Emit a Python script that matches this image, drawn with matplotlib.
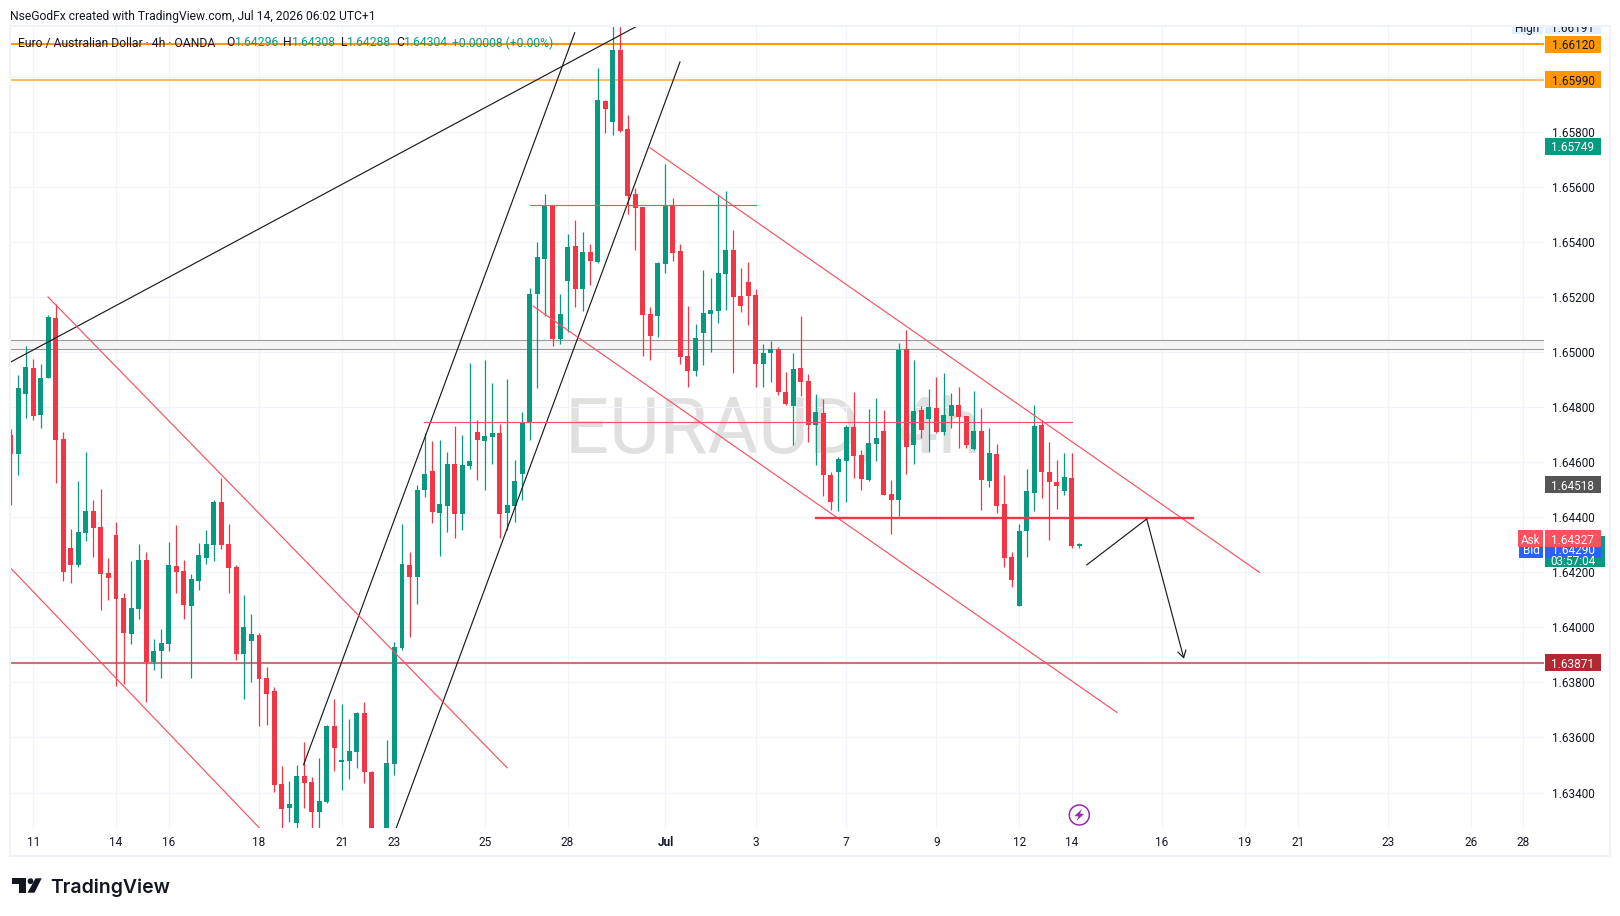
import matplotlib
matplotlib.use("Agg")
import matplotlib.pyplot as plt
from matplotlib.patches import Rectangle, Polygon, Circle
import numpy as np

plt.rcParams["font.family"] = ["Roboto", "DejaVu Sans"]

# EUR/AUD 4h bars
opens = [1.64699, 1.64630, 1.64848, 1.64943, 1.64772, 1.64906, 1.65124, 1.64685, 1.64289, 1.64227,
         1.64343, 1.64423, 1.64365, 1.64198, 1.64336, 1.64107, 1.63976, 1.64067, 1.64246, 1.63875,
         1.63915, 1.63940, 1.64223, 1.64205, 1.64078, 1.64169, 1.64252, 1.64299, 1.64456, 1.64303,
         1.64220, 1.63903, 1.63951, 1.63973, 1.63817, 1.63769, 1.63432, 1.63344, 1.63290, 1.63461,
         1.63439, 1.63330, 1.63366, 1.63642, 1.63511, 1.63515, 1.63548, 1.63689, 1.63475, 1.63228,
         1.63235, 1.63504, 1.63926, 1.64227, 1.64184, 1.64500, 1.64568, 1.64416, 1.64441, 1.64594,
         1.64412, 1.64587, 1.64710, 1.64678, 1.64692, 1.64707, 1.64416, 1.64441, 1.64558, 1.64743,
         1.65212, 1.65339, 1.65535, 1.65048, 1.65259, 1.65386, 1.65230, 1.65364, 1.65328, 1.65913,
         1.65836, 1.66098, 1.65811, 1.65575, 1.65528, 1.65139, 1.65132, 1.65321, 1.65535, 1.65368,
         1.64986, 1.64932, 1.65070, 1.65139, 1.65150, 1.65284, 1.65371, 1.65204, 1.65255, 1.65208,
         1.64957, 1.64997, 1.65012, 1.64856, 1.64805, 1.64943, 1.64896, 1.64736, 1.64779, 1.64554,
         1.64565, 1.64605, 1.64728, 1.64627, 1.64536, 1.64667, 1.64714, 1.64485, 1.64463, 1.65012,
         1.64663, 1.64790, 1.64757, 1.64797, 1.64710, 1.64768, 1.64808, 1.64768, 1.64649, 1.64714,
         1.64532, 1.64630, 1.64449, 1.64256, 1.64078, 1.64351, 1.64489, 1.64736, 1.64565, 1.64529,
         1.64496, 1.64543, 1.64296]
highs = [1.64721, 1.64917, 1.65023, 1.64975, 1.64957, 1.65135, 1.65175, 1.64710, 1.64358, 1.64532,
         1.64638, 1.64463, 1.64503, 1.64252, 1.64383, 1.64125, 1.64242, 1.64303, 1.64274, 1.63958,
         1.63995, 1.64311, 1.64372, 1.64246, 1.64194, 1.64307, 1.64354, 1.64463, 1.64543, 1.64376,
         1.64227, 1.64118, 1.64049, 1.63980, 1.63857, 1.63784, 1.63497, 1.63442, 1.63501, 1.63584,
         1.63457, 1.63526, 1.63646, 1.63740, 1.63722, 1.63668, 1.63693, 1.63729, 1.63479, 1.63240,
         1.63591, 1.63947, 1.64376, 1.64274, 1.64518, 1.64707, 1.64678, 1.64681, 1.64638, 1.64732,
         1.64699, 1.64961, 1.64754, 1.64972, 1.64888, 1.64739, 1.64903, 1.64608, 1.64783, 1.65233,
         1.65400, 1.65575, 1.65535, 1.65212, 1.65430, 1.65480, 1.65437, 1.65393, 1.66033, 1.65916,
         1.66185, 1.66191, 1.65862, 1.65597, 1.65528, 1.65164, 1.65328, 1.65684, 1.65560, 1.65393,
         1.65168, 1.65103, 1.65299, 1.65270, 1.65571, 1.65586, 1.65444, 1.65306, 1.65328, 1.65230,
         1.65030, 1.65041, 1.65019, 1.64929, 1.64997, 1.65132, 1.64921, 1.64848, 1.64830, 1.64565,
         1.64619, 1.64736, 1.64856, 1.64645, 1.64794, 1.64834, 1.64790, 1.64536, 1.65034, 1.65081,
         1.64972, 1.64805, 1.64866, 1.64910, 1.64925, 1.64852, 1.64874, 1.64768, 1.64859, 1.64797,
         1.64725, 1.64667, 1.64554, 1.64274, 1.64376, 1.64576, 1.64808, 1.64754, 1.64674, 1.64608,
         1.64634, 1.64634, 1.64308]
lows = [1.64445, 1.64554, 1.64761, 1.64754, 1.64725, 1.64906, 1.64525, 1.64169, 1.64162, 1.64220,
        1.64314, 1.64256, 1.64064, 1.64100, 1.63787, 1.63795, 1.63940, 1.64031, 1.63729, 1.63846,
        1.63817, 1.63915, 1.64125, 1.64031, 1.63817, 1.64136, 1.64230, 1.64242, 1.64285, 1.64125,
        1.63882, 1.63740, 1.63802, 1.63642, 1.63646, 1.63403, 1.63246, 1.63293, 1.63246, 1.63344,
        1.63246, 1.63246, 1.63362, 1.63479, 1.63410, 1.63450, 1.63490, 1.63435, 1.63192, 1.63190,
        1.63210, 1.63464, 1.63918, 1.63966, 1.64085, 1.64474, 1.64380, 1.64259, 1.64347, 1.64325,
        1.64354, 1.64576, 1.64536, 1.64500, 1.64594, 1.64325, 1.64354, 1.64383, 1.64463, 1.64681,
        1.64870, 1.65132, 1.65023, 1.65030, 1.65074, 1.65164, 1.65150, 1.65244, 1.65324, 1.65796,
        1.65789, 1.65800, 1.65502, 1.65371, 1.64986, 1.64972, 1.65055, 1.65288, 1.65331, 1.64957,
        1.64874, 1.64914, 1.64954, 1.65001, 1.65106, 1.65154, 1.64925, 1.65146, 1.65099, 1.64874,
        1.64874, 1.64892, 1.64845, 1.64808, 1.64663, 1.64841, 1.64674, 1.64591, 1.64478, 1.64427,
        1.64423, 1.64456, 1.64543, 1.64500, 1.64532, 1.64605, 1.64482, 1.64340, 1.64405, 1.64558,
        1.64594, 1.64688, 1.64638, 1.64707, 1.64699, 1.64725, 1.64652, 1.64652, 1.64645, 1.64427,
        1.64510, 1.64416, 1.64220, 1.64147, 1.64078, 1.64256, 1.64423, 1.64470, 1.64318, 1.64431,
        1.64482, 1.64289, 1.64288]
closes = [1.64630, 1.64870, 1.64946, 1.64768, 1.64906, 1.65128, 1.64681, 1.64202, 1.64227, 1.64347,
          1.64423, 1.64361, 1.64194, 1.64180, 1.64104, 1.63980, 1.64071, 1.64246, 1.63875, 1.63915,
          1.63944, 1.64227, 1.64202, 1.64082, 1.64176, 1.64263, 1.64303, 1.64456, 1.64299, 1.64216,
          1.63903, 1.64002, 1.63976, 1.63813, 1.63758, 1.63428, 1.63341, 1.63359, 1.63461, 1.63435,
          1.63330, 1.63370, 1.63642, 1.63562, 1.63519, 1.63551, 1.63689, 1.63475, 1.63228, 1.63205,
          1.63508, 1.63929, 1.64230, 1.64184, 1.64500, 1.64558, 1.64420, 1.64449, 1.64594, 1.64412,
          1.64591, 1.64605, 1.64681, 1.64696, 1.64707, 1.64412, 1.64445, 1.64532, 1.64747, 1.65212,
          1.65346, 1.65535, 1.65048, 1.65139, 1.65382, 1.65230, 1.65364, 1.65331, 1.65916, 1.65884,
          1.66098, 1.65804, 1.65567, 1.65524, 1.65135, 1.65059, 1.65324, 1.65535, 1.65360, 1.64983,
          1.64932, 1.65052, 1.65143, 1.65154, 1.65288, 1.65371, 1.65201, 1.65168, 1.65204, 1.64957,
          1.64997, 1.65012, 1.64856, 1.64812, 1.64939, 1.64892, 1.64736, 1.64783, 1.64554, 1.64456,
          1.64612, 1.64728, 1.64623, 1.64540, 1.64670, 1.64688, 1.64482, 1.64463, 1.65008, 1.64656,
          1.64787, 1.64717, 1.64801, 1.64710, 1.64772, 1.64808, 1.64765, 1.64663, 1.64714, 1.64536,
          1.64634, 1.64441, 1.64252, 1.64173, 1.64351, 1.64496, 1.64732, 1.64565, 1.64529, 1.64514,
          1.64547, 1.64296, 1.64304]

date_pos = [3, 14, 21, 33, 44, 51, 63, 74, 87, 99, 111, 123, 134, 141, 153, 164, 171, 183, 194, 201]
date_lbl = ["11", "14", "16", "18", "21", "23", "25", "28", "Jul", "3", "7", "9", "12", "14", "16", "19", "21", "23", "26", "28"]
price_ticks = [1.634, 1.636, 1.638, 1.640, 1.642, 1.644, 1.646, 1.648, 1.650, 1.652, 1.654, 1.656, 1.658, 1.660]

# drawings: (bar, price) pairs
black_lines = [[(-2, 1.64935), (88.4, 1.66261)],
               [(38.93, 1.63501), (74.95, 1.66161)],
               [(50.41, 1.63210), (88.94, 1.66055)]]
red_lines = [[(4.97, 1.65201), (65.96, 1.63490)],
             [(-1.41, 1.64256), (34.46, 1.63231)],
             [(84.96, 1.65743), (165.94, 1.64200)],
             [(69.41, 1.65168), (147, 1.63691)],
             [(69, 1.65535), (99, 1.65535)],
             [(54.93, 1.64747), (141, 1.64747)]]
support = [(107, 1.64399), (157.1, 1.64399)]
arrow_path = [(142.98, 1.64227), (150.95, 1.64394), (155.9, 1.63886)]
zone = (1.65010, 1.65043)

tag_prices = [1.66120, 1.65990, 1.65749, 1.64518, 1.63871]
tag_text = ["1.66120", "1.65990", "1.65749", "1.64518", "1.63871"]
tag_bg = ["#ff9800", "#ff9800", "#089981", "#555555", "#b22833"]
tag_fg = ["#131722", "#131722", "white", "white", "white"]

GREEN = "#089981"
RED = "#f23645"
W, H = 1620, 916
Y_TOP, Y_BOT = 1.66182, 1.63271

fig = plt.figure(figsize=(W / 100, H / 100), dpi=100, facecolor="white")
ax = fig.add_axes([10 / W, (H - 828) / H, 1534 / W, 801 / H])
ax.set_xlim(-0.083, 203.74)
ax.set_ylim(Y_BOT, Y_TOP)
for s in ax.spines.values():
    s.set_visible(False)

ax.set_xticks(date_pos, date_lbl)
# 1.66000 sits behind the 1.65990 tag in the original
ax.set_yticks(price_ticks, [f"{p:.5f}" if p < 1.66 else "" for p in price_ticks])
ax.yaxis.tick_right()
ax.tick_params(length=0, labelsize=8.5, labelcolor="#131722")
ax.tick_params(axis="y", pad=6)
ax.tick_params(axis="x", pad=6)
ax.get_xticklabels()[8].set_fontweight("bold")
ax.grid(True, color="#f0f3fa", lw=0.9, zorder=0)
ax.set_axisbelow(True)

ax.text(73.6, 1.64634, "EURAUD, 4h", fontsize=56, color="#e0e0e0", va="baseline", ha="left", zorder=0.5)

# grey zone and horizontal levels
ax.axhspan(zone[0], zone[1], color="#f5f5f5", zorder=1, lw=0)
for z in zone:
    ax.axhline(z, color="#9b9b9b", lw=0.8, zorder=1.2)
ax.axhline(1.66120, color="#ff9800", lw=1.5, zorder=1.5)
ax.axhline(1.65990, color="#ffbd63", lw=1.5, zorder=1.5)
ax.axhline(1.63871, color="#cd7079", lw=1.5, zorder=1.5)

# candles
x = np.arange(len(opens))
o = np.array(opens)
h = np.array(highs)
l = np.array(lows)
c = np.array(closes)
col = [GREEN if cc >= oo else RED for oo, cc in zip(o, c)]
ax.vlines(x, l, h, colors=col, lw=0.9, zorder=2)
ax.bar(x, np.maximum(np.abs(c - o), 0.00004), bottom=np.minimum(o, c), width=0.66, color=col, lw=0, zorder=2.1)

# trend lines
for seg in black_lines:
    xs, ys = zip(*seg)
    ax.plot(xs, ys, color="#1b1b1b", lw=0.85, zorder=3)
for seg in red_lines:
    xs, ys = zip(*seg)
    ax.plot(xs, ys, color="#f7525f", lw=0.85, zorder=3)
xs, ys = zip(*support)
ax.plot(xs, ys, color=RED, lw=1.7, zorder=3)
xs, ys = zip(*arrow_path[:2])
ax.plot(xs, ys, color="#1b1b1b", lw=0.85, zorder=3)
ax.annotate("", xy=arrow_path[2], xytext=arrow_path[1],
            arrowprops=dict(arrowstyle="->,head_length=0.5,head_width=0.3", color="#1b1b1b", lw=0.85, shrinkA=0, shrinkB=0), zorder=3)

# overlay in pixels for the tags, frame and branding
ov = fig.add_axes([0, 0, 1, 1], zorder=5)
ov.set_xlim(0, W)
ov.set_ylim(H, 0)
ov.axis("off")
ov.patch.set_alpha(0)


def py(p):
    return 27 + (Y_TOP - p) / (Y_TOP - Y_BOT) * 801


def tag(x0, x1, yc, bg, txt, fg, hgt=17, **kw):
    ov.add_patch(Rectangle((x0, yc - hgt / 2), x1 - x0, hgt, color=bg, lw=0))
    ov.text((x0 + x1) / 2, yc, txt, color=fg, fontsize=8.5, ha="center", va="center_baseline", **kw)


# High label is cut off at the top of the frame
tag(1512, 1543, 27, "#e3effd", "High", "#131722", hgt=14)
tag(1545, 1601, 27, "#e3effd", "1.66191", "#131722", hgt=14)
ov.add_patch(Rectangle((1480, 0), 140, 26, color="white", lw=0, zorder=4))

for p, t, bg, fg in zip(tag_prices, tag_text, tag_bg, tag_fg):
    tag(1545, 1601, py(p), bg, t, fg)

# countdown, bid, ask stack
ov.add_patch(Rectangle((1545, 536), 60, 31, color=GREEN, lw=0))
ov.text(1573, 560, "03:57:04", color="white", fontsize=8.5, ha="center", va="center_baseline")
tag(1519, 1543, 549, "#2962ff", "Bid", "white")
tag(1545, 1601, 549, "#2962ff", "1.64290", "white")
ov.add_patch(Rectangle((1518, 530), 25, 17, color="#f7525f", lw=0, zorder=3.5))
ov.add_patch(Rectangle((1545, 530), 56, 17, color="#f7525f", lw=0, zorder=3.5))
ov.text(1530.5, 538.5, "Ask", color="white", fontsize=8.5, ha="center", va="center_baseline", zorder=3.6)
ov.text(1573, 538.5, "1.64327", color="white", fontsize=8.5, ha="center", va="center_baseline", zorder=3.6)

# outer frame
ov.add_patch(Rectangle((9.5, 26), 1600.5, 829.5, fill=False, ec="#f0f3fa", lw=1.5, zorder=4.5))

# event icon
ov.add_patch(Circle((1079.3, 815), 10, fill=False, ec="#9c27b0", lw=1.1))
ov.add_patch(Polygon([(1082, 809), (1074.5, 816), (1078.5, 816.5), (1076.5, 821), (1084, 814), (1080, 813.5)], color="#9c27b0", lw=0))

# header and legend
ov.text(10, 15, "NseGodFx created with TradingView.com, Jul 14, 2026 06:02 UTC+1", fontsize=8.7, color="#131722", va="center_baseline")
legend_x = [18, 226, 234.5, 283, 292, 341, 347, 396, 403.5, 452.5]
legend_txt = ["Euro / Australian Dollar · 4h · OANDA", "O", "1.64296", "H", "1.64308", "L", "1.64288", "C", "1.64304", "+0.00008 (+0.00%)"]
legend_col = ["#131722", "#131722", GREEN, "#131722", GREEN, "#131722", GREEN, "#131722", GREEN, GREEN]
for lx, lt, lc in zip(legend_x, legend_txt, legend_col):
    ov.text(lx, 41.5, lt, fontsize=8.7, color=lc, va="center_baseline")

# TradingView logo
ov.add_patch(Polygon([(12, 878.3), (25.5, 878.3), (25.5, 892.7), (19, 892.7), (19, 884), (12, 884)], color="#131722", lw=0))
ov.add_patch(Circle((30.5, 881.2), 2.9, color="#131722", lw=0))
ov.add_patch(Polygon([(35.5, 878.3), (41.7, 878.3), (34.5, 892.7), (27.5, 892.7)], color="#131722", lw=0))
ov.text(50, 892.7, "TradingView", fontsize=14, fontweight="semibold", family="Inter", color="#131722", va="baseline")

fig.savefig("out.png", dpi=100)
